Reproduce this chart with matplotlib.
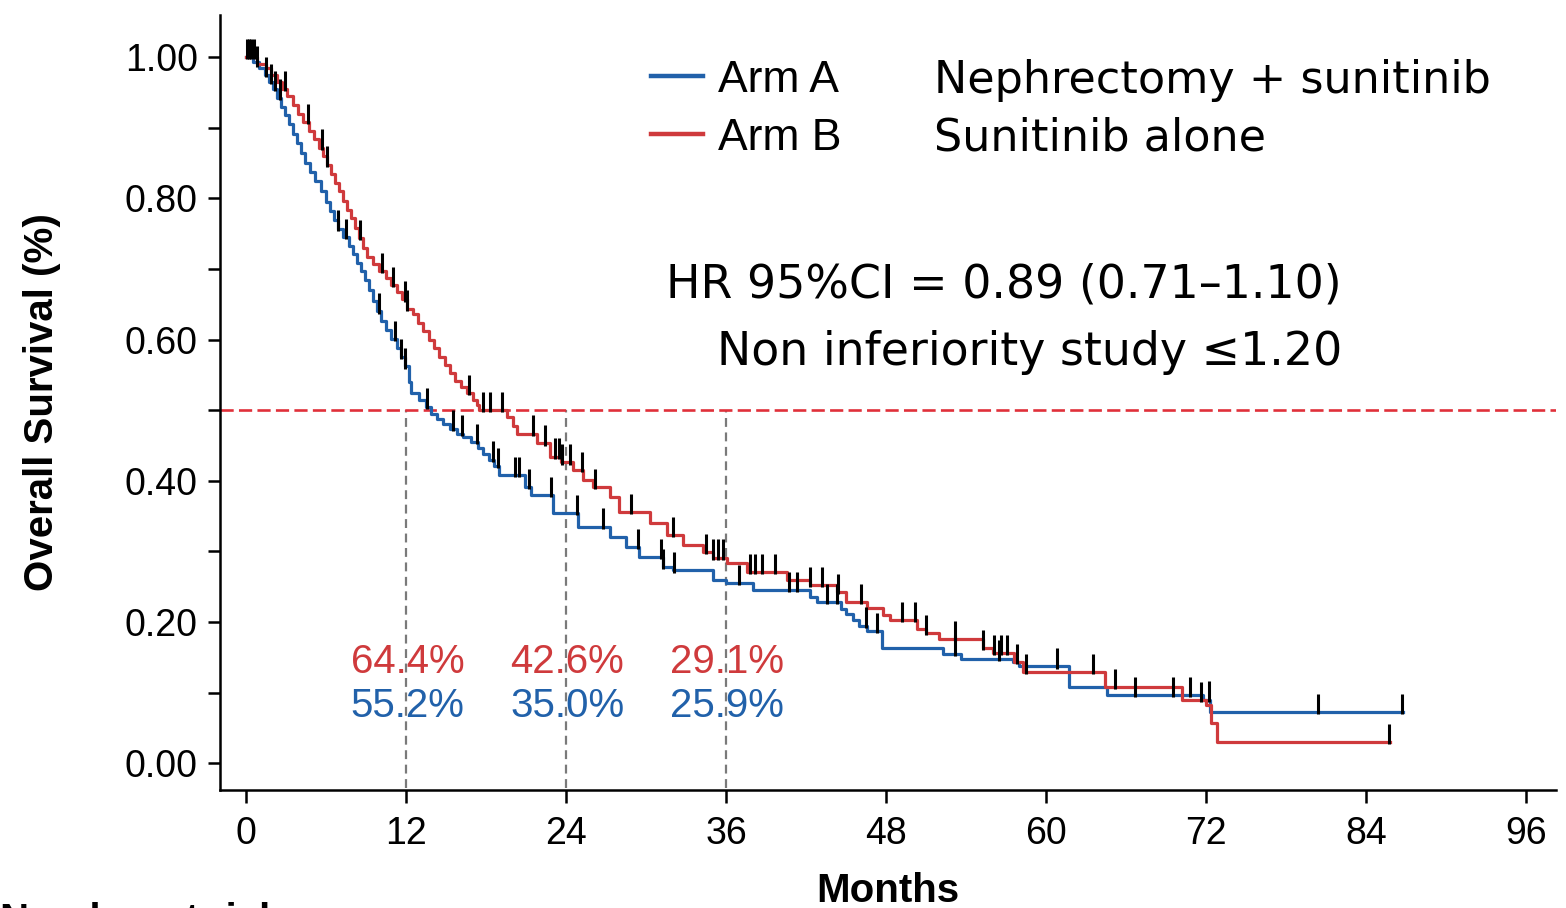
import numpy as np
import matplotlib
matplotlib.use('Agg')
import matplotlib.pyplot as plt
from matplotlib.ticker import MultipleLocator, FormatStrFormatter

# Arm A (nephrectomy + sunitinib): drop times (months) and survival after drop
arm_a_t = [0, 0.5, 1.0, 1.4, 1.7, 2.0, 2.3, 2.6, 2.9, 3.2, 3.5, 3.8, 4.1, 4.4,
           4.8, 5.2, 5.6, 6.0, 6.3, 6.6, 6.9, 7.3, 7.7, 8.0, 8.3, 8.6, 8.9,
           9.2, 9.5, 9.8, 10.1, 10.5, 10.9, 11.3, 11.6, 11.9, 12.2, 12.4,
           13.0, 13.5, 13.9, 14.3, 14.8, 15.3, 15.8, 16.3, 16.9, 17.4, 17.8,
           18.2, 18.6, 19.0, 20.9, 21.4, 23.0, 24.9, 27.3, 28.5, 29.5, 31.3,
           32.0, 35.0, 36.0, 38.0, 42.3, 42.8, 44.6, 45.0, 45.5, 46.0, 46.6,
           47.7, 52.3, 53.6, 57.5, 58.0, 61.7, 64.6, 71.8, 72.3, 86.8]
arm_a_s = [1.0, 0.993, 0.985, 0.975, 0.965, 0.955, 0.943, 0.930, 0.918, 0.905,
           0.892, 0.878, 0.864, 0.850, 0.838, 0.825, 0.810, 0.795, 0.782,
           0.770, 0.757, 0.745, 0.733, 0.721, 0.709, 0.697, 0.684, 0.670,
           0.655, 0.640, 0.627, 0.614, 0.601, 0.588, 0.575, 0.562, 0.540,
           0.525, 0.515, 0.505, 0.495, 0.488, 0.481, 0.474, 0.467, 0.462,
           0.455, 0.447, 0.438, 0.430, 0.421, 0.408, 0.391, 0.380, 0.354,
           0.335, 0.321, 0.306, 0.292, 0.278, 0.273, 0.259, 0.255, 0.245,
           0.235, 0.228, 0.219, 0.211, 0.203, 0.195, 0.187, 0.163, 0.155,
           0.148, 0.143, 0.137, 0.108, 0.096, 0.090, 0.072, 0.072]

# Arm B (sunitinib alone)
arm_b_t = [0, 0.8, 1.5, 1.9, 2.3, 2.7, 3.1, 3.5, 3.9, 4.3, 4.7, 5.1, 5.5, 5.8,
           6.1, 6.4, 6.7, 7.0, 7.3, 7.6, 7.9, 8.2, 8.5, 8.8, 9.1, 9.5, 10.0,
           10.5, 10.9, 11.3, 11.7, 12.1, 12.5, 12.9, 13.3, 13.7, 14.1, 14.5,
           14.9, 15.3, 15.7, 16.1, 16.6, 17.0, 17.3, 17.5, 19.6, 20.0, 20.3,
           21.8, 22.8, 23.6, 24.5, 25.3, 26.0, 27.3, 28.0, 30.3, 31.6, 32.8,
           34.3, 35.0, 36.1, 37.6, 40.6, 42.3, 44.3, 45.0, 46.6, 47.8, 48.3,
           50.3, 51.0, 52.0, 55.3, 56.0, 57.6, 58.3, 64.4, 70.2, 72.0, 72.4,
           72.8, 85.8]
arm_b_s = [1.0, 0.990, 0.985, 0.975, 0.965, 0.955, 0.945, 0.932, 0.920, 0.908,
           0.896, 0.884, 0.872, 0.860, 0.848, 0.835, 0.822, 0.810, 0.797,
           0.784, 0.772, 0.758, 0.744, 0.730, 0.717, 0.707, 0.697, 0.687,
           0.677, 0.667, 0.657, 0.644, 0.636, 0.624, 0.612, 0.600, 0.588,
           0.576, 0.564, 0.553, 0.542, 0.533, 0.524, 0.515, 0.507, 0.500,
           0.490, 0.478, 0.467, 0.453, 0.434, 0.426, 0.415, 0.401, 0.391,
           0.377, 0.356, 0.340, 0.323, 0.309, 0.299, 0.291, 0.283, 0.271,
           0.259, 0.252, 0.242, 0.228, 0.220, 0.210, 0.203, 0.190, 0.184,
           0.176, 0.163, 0.156, 0.143, 0.129, 0.108, 0.089, 0.082, 0.057,
           0.030, 0.030]

# censored observations (months)
arm_a_cens = [0.1, 0.4, 1.5, 1.9, 2.2, 2.55, 6.9, 7.5, 10.0, 11.2, 11.6, 11.9,
              13.6, 15.5, 16.2, 17.3, 18.5, 18.9, 20.2, 20.5, 21.2, 22.9,
              24.8, 26.8, 29.4, 31.1, 31.3, 32.1, 37.0, 40.7, 41.3, 43.6,
              44.3, 46.5, 47.3, 53.2, 56.5, 57.8, 60.8, 66.7, 69.5, 70.8,
              72.2, 80.4, 86.7]
arm_b_cens = [0.2, 0.6, 0.8, 2.9, 4.65, 5.7, 6.1, 8.55, 10.2, 11.0, 11.9, 12.1,
              16.7, 17.8, 18.3, 19.2, 21.5, 22.4, 23.2, 23.5, 23.7, 24.3,
              25.2, 26.2, 28.9, 32.0, 34.5, 35.0, 35.4, 35.8, 37.8, 38.2,
              38.7, 39.7, 42.3, 43.2, 44.4, 46.1, 49.2, 50.2, 51.0, 53.2,
              55.3, 56.1, 56.6, 57.1, 58.5, 63.5, 65.2, 71.6, 85.7]

landmarks = [12, 24, 36]
pct_b = ['64.4%', '42.6%', '29.1%']
pct_a = ['55.2%', '35.0%', '25.9%']

blue = '#2161aa'
red = '#cf3a3c'


def surv_at(times, surv, t):
    i = np.searchsorted(times, t, side='right') - 1
    return np.asarray(surv)[i]


plt.rcParams['font.family'] = ['Liberation Sans', 'DejaVu Sans']
fig = plt.figure(figsize=(15.66, 9.08), dpi=100)
ax = fig.add_axes([0.1405, 0.130, 0.853, 0.8535])

ax.step(arm_a_t, arm_a_s, where='post', c=blue, lw=2.3, zorder=3,
        label='Arm A')
ax.step(arm_b_t, arm_b_s, where='post', c=red, lw=2.3, zorder=3,
        label='Arm B')

for cens, t, s in ((arm_a_cens, arm_a_t, arm_a_s),
                   (arm_b_cens, arm_b_t, arm_b_s)):
    ys = surv_at(t, s, cens)
    ax.vlines(cens, ys - 0.003, ys + 0.026, color='k', lw=2.2, zorder=4)

ax.axhline(0.5, ls=(0, (5, 2)), c='#e0303a', lw=1.9, zorder=2)
ax.vlines(landmarks, -0.035, 0.5, colors='#7a7a7a', linestyles=(0, (4, 2.5)),
          lw=1.6, zorder=1)

for x, pb, pa in zip(landmarks, pct_b, pct_a):
    ax.text(x + 0.1, 0.143, pb, color=red, fontsize=29, ha='center',
            va='center')
    ax.text(x + 0.1, 0.081, pa, color=blue, fontsize=29, ha='center',
            va='center')

ax.set_xlim(-1.95, 98.25)
ax.set_ylim(-0.038, 1.06)
ax.set_xticks(np.arange(0, 97, 12))
ax.yaxis.set_major_locator(MultipleLocator(0.2))
ax.yaxis.set_minor_locator(MultipleLocator(0.1))
ax.yaxis.set_major_formatter(FormatStrFormatter('%.2f'))
ax.tick_params(which='both', direction='out', length=9, width=1.8,
               labelsize=27)
ax.tick_params(axis='x', pad=10)
ax.tick_params(axis='y', pad=7)
for sp in ('top', 'right'):
    ax.spines[sp].set_visible(False)
for sp in ('left', 'bottom'):
    ax.spines[sp].set_linewidth(1.8)

ax.set_xlabel('Months', fontsize=29, fontweight='bold', labelpad=14)
ax.set_ylabel('Overall Survival (%)', fontsize=29, fontweight='bold',
              labelpad=46)

leg = ax.legend(loc='upper left', bbox_to_anchor=(0.323, 0.942),
                frameon=False, prop={'size': 32}, borderpad=0,
                borderaxespad=0, handlelength=1.15, handletextpad=0.35,
                labelspacing=0.38)
for h in leg.get_lines():
    h.set_linewidth(3.2)

ax.text(51.6, 0.967, 'Nephrectomy + sunitinib', fontsize=32,
        family='DejaVu Sans', va='center', ha='left')
ax.text(51.6, 0.885, 'Sunitinib alone', fontsize=32, family='DejaVu Sans',
        va='center', ha='left')
ax.text(82.2, 0.678, 'HR 95%CI = 0.89 (0.71\u20131.10)', fontsize=33,
        family='DejaVu Sans', va='center', ha='right')
ax.text(82.2, 0.582, 'Non inferiority study \u22641.20', fontsize=33,
        family='DejaVu Sans', va='center', ha='right')

fig.text(0.0, 0.007, 'Number at risk', fontsize=29, fontweight='bold',
         va='top', ha='left')

fig.savefig('out.png', dpi=100)
